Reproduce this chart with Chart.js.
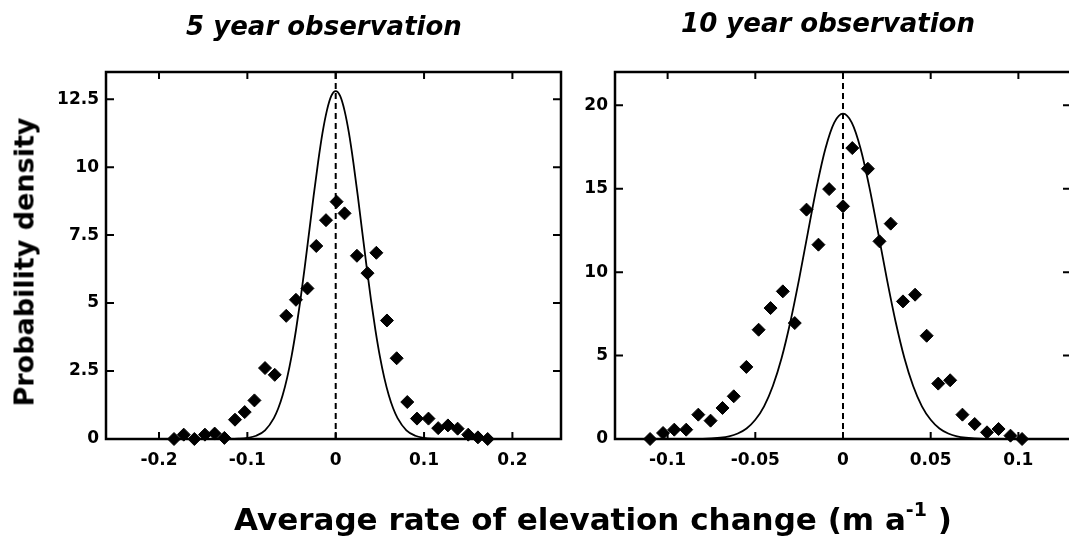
<!DOCTYPE html>
<html>
<head>
<meta charset="utf-8">
<script src="https://cdn.jsdelivr.net/npm/chart.js@4"></script>
<style>
  html, body { margin: 0; padding: 0; background: #fff; overflow: hidden; }
  #wrap { position: relative; width: 1069px; height: 537px; overflow: hidden; }
  canvas { position: absolute; left: 0; top: 0; }
  .lbl { position: absolute; font-family: "DejaVu Sans", sans-serif; font-weight: bold; color: #000; white-space: nowrap; line-height: 1; }
  .title { font-style: italic; font-size: 26px; transform: translateX(-50%); }
</style>
</head>
<body>
<div id="wrap">
<canvas id="left" width="1069" height="537"></canvas>
<canvas id="right" width="1080" height="537"></canvas>

<div class="lbl title" style="left:324px; top:13px;">5 year observation</div>
<div class="lbl title" style="left:828px; top:10px;">10 year observation</div>
<div class="lbl" style="left:24px; top:262px; font-size:27px; transform: translate(-50%, -50%) rotate(-90deg);">Probability density</div>
<div class="lbl" style="left:593px; top:500px; font-size:31px; transform: translateX(-50%);">Average rate of elevation change (m a<sup style="font-size:19px; vertical-align:14px;">-1</sup> )</div>
</div>

<script>
// 5 year observation: observed densities
const leftX = [-0.183, -0.172, -0.160, -0.148, -0.137, -0.126, -0.114, -0.103, -0.092, -0.080, -0.069,
  -0.056, -0.045, -0.032, -0.022, -0.011, 0.001, 0.010, 0.024, 0.036, 0.046, 0.058, 0.069, 0.081,
  0.092, 0.105, 0.116, 0.127, 0.138, 0.150, 0.161, 0.172];
const leftY = [0, 0.16, 0, 0.16, 0.2, 0.04, 0.71, 0.99, 1.42, 2.61, 2.36,
  4.53, 5.12, 5.54, 7.10, 8.05, 8.73, 8.30, 6.74, 6.10, 6.85, 4.36, 2.97, 1.36,
  0.75, 0.75, 0.40, 0.50, 0.38, 0.16, 0.06, 0];

// 5 year observation: fitted curve
const leftCurveX = [-0.13, -0.12, -0.11, -0.10, -0.09, -0.08, -0.07, -0.065, -0.06, -0.055, -0.05, -0.045,
  -0.04, -0.035, -0.03, -0.025, -0.02, -0.015, -0.01, -0.005, 0, 0.005, 0.01, 0.015, 0.02, 0.025,
  0.03, 0.035, 0.04, 0.045, 0.05, 0.055, 0.06, 0.065, 0.07, 0.08, 0.09, 0.10, 0.11, 0.12, 0.13];
const leftCurveY = [0, 0, 0.01, 0.04, 0.12, 0.32, 0.77, 1.13, 1.62, 2.25, 3.04, 4.00,
  5.10, 6.33, 7.63, 8.94, 10.17, 11.25, 12.08, 12.62, 12.8, 12.62, 12.08, 11.25, 10.17, 8.94,
  7.63, 6.33, 5.10, 4.00, 3.04, 2.25, 1.62, 1.13, 0.77, 0.32, 0.12, 0.04, 0.01, 0, 0];

// 10 year observation: observed densities
const rightX = [-0.110, -0.1026, -0.0962, -0.0894, -0.0825, -0.0755, -0.0687, -0.0623, -0.0551, -0.0481,
  -0.0413, -0.0343, -0.0275, -0.0208, -0.0140, -0.0079, 0.0, 0.0053, 0.0142, 0.0208, 0.0272, 0.0342,
  0.0411, 0.0477, 0.0543, 0.0611, 0.0681, 0.0751, 0.0821, 0.0887, 0.0955, 0.1021];
const rightY = [0, 0.36, 0.56, 0.56, 1.46, 1.10, 1.86, 2.56, 4.32, 6.55,
  7.85, 8.85, 6.95, 13.75, 11.65, 14.98, 13.95, 17.44, 16.20, 11.85, 12.91, 8.25,
  8.65, 6.19, 3.32, 3.52, 1.46, 0.90, 0.40, 0.60, 0.20, 0];

// 10 year observation: fitted curve
const rightCurveX = [-0.12, -0.10, -0.09, -0.08, -0.07, -0.065, -0.06, -0.055, -0.05, -0.045, -0.04,
  -0.035, -0.03, -0.025, -0.02, -0.015, -0.01, -0.005, 0, 0.005, 0.01, 0.015, 0.02, 0.025, 0.03,
  0.035, 0.04, 0.045, 0.05, 0.055, 0.06, 0.065, 0.07, 0.08, 0.09, 0.10, 0.12];
const rightCurveY = [0, 0, 0, 0.01, 0.08, 0.16, 0.33, 0.63, 1.15, 1.96, 3.18,
  4.86, 7.03, 9.60, 12.39, 15.11, 17.41, 18.96, 19.5, 18.96, 17.41, 15.11, 12.39, 9.60, 7.03,
  4.86, 3.18, 1.96, 1.15, 0.63, 0.33, 0.16, 0.08, 0.01, 0, 0, 0];

// ticks
const leftXTicks = [-0.2, -0.1, 0, 0.1, 0.2];
const leftXTickLabels = ['-0.2', '-0.1', '0', '0.1', '0.2'];
const leftYTicks = [0, 2.5, 5, 7.5, 10, 12.5];
const leftYTickLabels = ['0', '2.5', '5', '7.5', '10', '12.5'];
const rightXTicks = [-0.1, -0.05, 0, 0.05, 0.1];
const rightXTickLabels = ['-0.1', '-0.05', '0', '0.05', '0.1'];
const rightYTicks = [0, 5, 10, 15, 20];
const rightYTickLabels = ['0', '5', '10', '15', '20'];

const zip = (xs, ys) => xs.map((x, i) => ({ x: x, y: ys[i] }));
const tickFont = { family: 'DejaVu Sans', size: 17, weight: 'bold' };

// box round the plot area, with ticks pointing inward on all four sides
const framePlugin = {
  id: 'frame',
  afterDatasetsDraw(chart) {
    const { ctx, chartArea: a, scales: { x, y } } = chart;
    ctx.save();
    ctx.strokeStyle = '#000';
    ctx.lineWidth = 2.5;
    ctx.strokeRect(a.left, a.top, a.right - a.left, a.bottom - a.top);
    ctx.lineWidth = 2;
    ctx.beginPath();
    x.ticks.forEach(t => {
      const px = x.getPixelForValue(t.value);
      ctx.moveTo(px, a.bottom); ctx.lineTo(px, a.bottom - 7);
      ctx.moveTo(px, a.top); ctx.lineTo(px, a.top + 7);
    });
    y.ticks.forEach(t => {
      const py = y.getPixelForValue(t.value);
      ctx.moveTo(a.left, py); ctx.lineTo(a.left + 8, py);
      ctx.moveTo(a.right, py); ctx.lineTo(a.right - 8, py);
    });
    ctx.stroke();
    ctx.restore();
  }
};

function makePanel(id, opt) {
  new Chart(document.getElementById(id), {
    data: {
      datasets: [
        {
          type: 'scatter',
          data: zip(opt.px, opt.py),
          pointStyle: 'rectRot',
          pointRadius: 6.5,
          backgroundColor: '#000',
          borderColor: '#000',
          borderWidth: 1,
          clip: false
        },
        {
          type: 'line',
          data: zip(opt.cx, opt.cy),
          borderColor: '#000',
          borderWidth: 1.8,
          pointRadius: 0,
          cubicInterpolationMode: 'monotone'
        },
        {
          type: 'line',
          data: [{ x: 0, y: 0 }, { x: 0, y: opt.ymax }],
          borderColor: '#000',
          borderWidth: 2,
          borderDash: [6, 4],
          pointRadius: 0
        }
      ]
    },
    options: {
      responsive: false,
      animation: false,
      layout: { padding: opt.padding },
      plugins: { legend: { display: false }, tooltip: { enabled: false } },
      scales: {
        x: {
          type: 'linear',
          min: opt.xmin,
          max: opt.xmax,
          afterBuildTicks: s => { s.ticks = opt.xTicks.map(v => ({ value: v })); },
          afterFit: s => { s.height = 98; },
          grid: { display: false, drawTicks: false },
          border: { display: false },
          ticks: {
            color: '#000', font: tickFont, padding: 11, maxRotation: 0, autoSkip: false,
            callback: (v, i) => opt.xLabels[i]
          }
        },
        y: {
          type: 'linear',
          min: 0,
          max: opt.ymax,
          afterBuildTicks: s => { s.ticks = opt.yTicks.map(v => ({ value: v })); },
          afterFit: s => { s.width = opt.yWidth; },
          grid: { display: false, drawTicks: false },
          border: { display: false },
          ticks: {
            color: '#000', font: tickFont, padding: 7, autoSkip: false,
            callback: (v, i) => opt.yLabels[i]
          }
        }
      }
    },
    plugins: [framePlugin]
  });
}

makePanel('left', {
  px: leftX, py: leftY, cx: leftCurveX, cy: leftCurveY,
  xmin: -0.26, xmax: 0.255, ymax: 13.5,
  xTicks: leftXTicks, xLabels: leftXTickLabels,
  yTicks: leftYTicks, yLabels: leftYTickLabels,
  yWidth: 106,
  padding: { left: 0, top: 72, right: 508, bottom: 0 }
});

makePanel('right', {
  px: rightX, py: rightY, cx: rightCurveX, cy: rightCurveY,
  xmin: -0.13, xmax: 0.13, ymax: 22,
  xTicks: rightXTicks, xLabels: rightXTickLabels,
  yTicks: rightYTicks, yLabels: rightYTickLabels,
  yWidth: 615,
  padding: { left: 0, top: 72, right: 9, bottom: 0 }
});
</script>
</body>
</html>
